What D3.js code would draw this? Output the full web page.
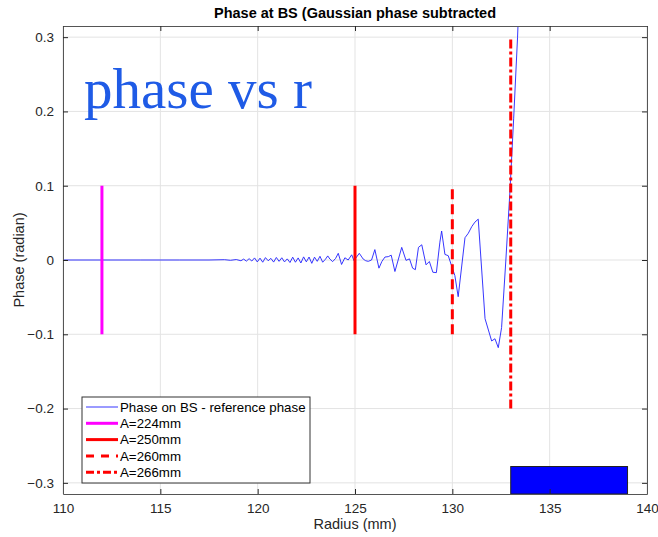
<!DOCTYPE html>
<html>
<head>
<meta charset="utf-8">
<script src="https://cdn.jsdelivr.net/npm/d3@7"></script>
<style>
body { margin: 0; background: #fff; }
text { font-family: "Liberation Sans", Arial, Helvetica, sans-serif; }
</style>
</head>
<body>
<svg width="658" height="537"></svg>
<script>
// ---- data ----
var radius = [110, 112, 114, 116, 117.5, 118.3, 118.6, 118.9,
  119.14, 119.28, 119.42, 119.56, 119.70, 119.84, 119.98, 120.12, 120.26, 120.40,
  120.54, 120.68, 120.82, 120.96, 121.10, 121.24, 121.38, 121.52, 121.66, 121.80,
  121.94, 122.08, 122.22, 122.36, 122.50, 122.64, 122.78, 122.92, 123.06, 123.20,
  123.34, 123.48, 123.60, 123.71, 123.85, 124.00, 124.14, 124.31, 124.48, 124.65,
  124.83, 124.95, 125.08, 125.22, 125.42, 125.55, 125.68, 125.85, 126.02, 126.23,
  126.38, 126.54, 126.71, 126.86, 127.05, 127.40, 127.62, 127.80, 127.96, 128.10,
  128.26, 128.43, 128.65, 128.82, 129.00, 129.18, 129.36, 129.45, 129.62, 129.79,
  129.96, 130.13, 130.30, 130.65, 130.82, 131.00, 131.16, 131.33, 131.68, 132.02,
  132.19, 132.36, 132.53, 132.75, 132.96, 133.15, 133.35, 133.50];
var phase = [0, 0, 0, 0, 0, 0.0004, -0.0004, 0.0006,
  -0.0010, 0.0012, -0.0015, 0.0018, -0.0014, 0.0028, -0.0026, 0.0025, -0.0030, 0.0032,
  -0.0010, 0.0022, -0.0028, 0.0034, -0.0018, 0.0030, -0.0026, 0.0015, -0.0034, 0.0038,
  -0.0030, 0.0028, -0.0040, 0.0042, -0.0025, 0.0040, -0.0045, 0.0038, -0.0018, 0.0050,
  -0.0030, 0.0010, 0.0055, 0.0013, -0.0022, 0.0020, 0.0090, -0.0060, 0.0030, 0.0000,
  0.0070, -0.0010, 0.0040, 0.0090, 0.0013, -0.0010, -0.0018, 0.0000, 0.0140, -0.0110,
  -0.0020, 0.0040, 0.0045, 0.0065, -0.0155, 0.0170, -0.0005, 0.0015, -0.0110, -0.0130,
  0.0170, 0.0205, -0.0065, -0.0020, -0.0165, -0.0170, 0.0240, 0.0390, 0.0075, 0.0058,
  -0.0077, -0.0210, -0.0494, 0.0300, 0.0360, 0.0450, 0.0510, 0.0550, -0.0790, -0.1090,
  -0.1060, -0.1180, -0.0910, 0.0000, 0.0930, 0.1900, 0.3000, 0.4000];

var xTicks = [110, 115, 120, 125, 130, 135, 140];
var yTicks = [-0.3, -0.2, -0.1, 0, 0.1, 0.2, 0.3];

var markerNames = ['A=224mm', 'A=250mm', 'A=260mm', 'A=266mm'];
var markerR = [112, 125, 130, 133];
var markerLow = [-0.1, -0.1, -0.1, -0.2];
var markerHigh = [0.1, 0.1, 0.1, 0.3];

var boxR = [133, 139];
var boxTop = -0.278;

var lineName = 'Phase on BS - reference phase';

// ---- styles ----
var markerStyle = [
  {color: '#ff00ff', dash: null},
  {color: '#ff0000', dash: null},
  {color: '#ff0000', dash: '10,5'},
  {color: '#ff0000', dash: '9,3,3,3'}
];

var svg = d3.select('svg');
var plotL = 63, plotR = 647, plotT = 26, plotB = 494;

var x = d3.scaleLinear().domain([110, 140]).range([plotL, plotR]);
var y = d3.scaleLinear().domain([-0.315, 0.315]).range([plotB, plotT]);

svg.append('defs').append('clipPath').attr('id', 'plotclip')
  .append('rect')
  .attr('x', plotL).attr('y', plotT)
  .attr('width', plotR - plotL).attr('height', plotB - plotT);

// grid
var grid = svg.append('g');
grid.selectAll('.gx').data(xTicks).enter().append('line')
  .attr('x1', d => x(d)).attr('x2', d => x(d))
  .attr('y1', plotT).attr('y2', plotB)
  .attr('stroke', '#e3e3e3').attr('stroke-width', 1);
grid.selectAll('.gy').data(yTicks).enter().append('line')
  .attr('x1', plotL).attr('x2', plotR)
  .attr('y1', d => y(d)).attr('y2', d => y(d))
  .attr('stroke', '#e3e3e3').attr('stroke-width', 1);

// big annotation
svg.append('text')
  .attr('x', 84).attr('y', 108)
  .style('font-family', '"Liberation Serif", "Times New Roman", serif')
  .style('font-size', '57px')
  .attr('fill', '#1f5be6')
  .text('phase vs r');

var plot = svg.append('g').attr('clip-path', 'url(#plotclip)');

// phase line
var line = d3.line()
  .x((d, i) => x(radius[i]))
  .y((d, i) => y(phase[i]));
plot.append('path')
  .datum(phase)
  .attr('d', line)
  .attr('fill', 'none')
  .attr('stroke', '#2020ff')
  .attr('stroke-width', 0.9);

// marker lines
plot.selectAll('.marker').data(markerR).enter().append('line')
  .attr('x1', d => x(d)).attr('x2', d => x(d))
  .attr('y1', (d, i) => y(markerLow[i]))
  .attr('y2', (d, i) => y(markerHigh[i]))
  .attr('stroke', (d, i) => markerStyle[i].color)
  .attr('stroke-width', 3)
  .attr('stroke-dasharray', (d, i) => markerStyle[i].dash);

// blue box
plot.append('rect')
  .attr('x', x(boxR[0]))
  .attr('y', y(boxTop))
  .attr('width', x(boxR[1]) - x(boxR[0]))
  .attr('height', y(-0.315) - y(boxTop))
  .attr('fill', '#0000ff')
  .attr('stroke', '#222')
  .attr('stroke-width', 1);

// axes
var axisColor = '#262626';
var xAxisB = d3.axisBottom(x).tickValues(xTicks).tickSizeInner(-5).tickSizeOuter(0).tickPadding(9);
var xAxisT = d3.axisTop(x).tickValues(xTicks).tickSizeInner(-5).tickSizeOuter(0).tickFormat('');
var yAxisL = d3.axisLeft(y).tickValues(yTicks).tickSizeInner(-5).tickSizeOuter(0).tickPadding(9)
  .tickFormat(d => d === 0 ? '0' : d3.format('.1f')(d));
var yAxisR = d3.axisRight(y).tickValues(yTicks).tickSizeInner(-5).tickSizeOuter(0).tickFormat('');

function styleAxis(g) {
  g.selectAll('path').attr('stroke', '#555').attr('stroke-width', 1);
  g.selectAll('line').attr('stroke', axisColor);
  g.selectAll('text').attr('fill', axisColor)
    .style('font-family', '"Liberation Sans", Arial, sans-serif')
    .style('font-size', '13.5px');
}
svg.append('g').attr('transform', 'translate(0,' + plotB + ')').call(xAxisB).call(styleAxis);
svg.append('g').attr('transform', 'translate(0,' + plotT + ')').call(xAxisT).call(styleAxis);
svg.append('g').attr('transform', 'translate(' + plotL + ',0)').call(yAxisL).call(styleAxis);
svg.append('g').attr('transform', 'translate(' + plotR + ',0)').call(yAxisR).call(styleAxis);

// titles
svg.append('text')
  .attr('x', (plotL + plotR) / 2).attr('y', 18)
  .attr('text-anchor', 'middle')
  .style('font-size', '14.5px').style('font-weight', 'bold')
  .attr('fill', '#000')
  .text('Phase at BS (Gaussian phase subtracted');

svg.append('text')
  .attr('x', (plotL + plotR) / 2).attr('y', 529)
  .attr('text-anchor', 'middle')
  .style('font-size', '14.5px')
  .attr('fill', axisColor)
  .text('Radius (mm)');

svg.append('text')
  .attr('transform', 'translate(24,' + ((plotT + plotB) / 2) + ') rotate(-90)')
  .attr('text-anchor', 'middle')
  .style('font-size', '14.5px')
  .attr('fill', axisColor)
  .text('Phase (radian)');

// legend
var lg = svg.append('g').attr('transform', 'translate(82,397)');
lg.append('rect')
  .attr('width', 228).attr('height', 86)
  .attr('fill', '#fff').attr('stroke', '#333').attr('stroke-width', 1);

var legendNames = [lineName].concat(markerNames);
var items = lg.selectAll('.item').data(legendNames).enter().append('g')
  .attr('transform', (d, i) => 'translate(0,' + (10 + i * 16.3) + ')');
items.append('line')
  .attr('x1', 4).attr('x2', 36)
  .attr('stroke', (d, i) => i === 0 ? '#2020ff' : markerStyle[i - 1].color)
  .attr('stroke-width', (d, i) => i === 0 ? 0.9 : 3)
  .attr('stroke-dasharray', (d, i) => i === 0 ? null : (i === 3 ? '8,7' : (i === 4 ? '8,3,3,3' : null)));
items.append('text')
  .attr('x', 38).attr('dy', '0.35em')
  .style('font-size', '13.3px')
  .attr('fill', '#000')
  .text(d => d);
</script>
</body>
</html>
